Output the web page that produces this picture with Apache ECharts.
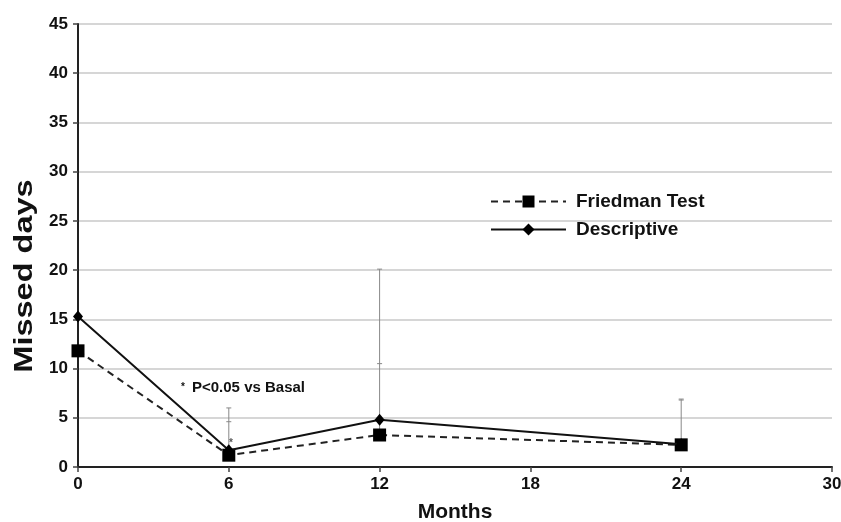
<!DOCTYPE html>
<html><head><meta charset="utf-8">
<script src="https://cdn.jsdelivr.net/npm/echarts@6/dist/echarts.min.js"></script>
<style>html,body{margin:0;padding:0;background:#fff}#c{width:841px;height:522px}</style>
</head><body><div id="c"></div>
<script>
const months = [0, 6, 12, 24];
const friedman = [11.8, 1.2, 3.25, 2.25];
const descriptive = [15.3, 1.7, 4.8, 2.3];
const descriptiveUpper = [null, 6.0, 20.1, 6.9];
const friedmanUpper = [null, 4.6, 10.5, 6.8];
const xTicks = [0, 6, 12, 18, 24, 30];
const yTicks = [0, 5, 10, 15, 20, 25, 30, 35, 40, 45];

const font = 'Liberation Sans, Arial, sans-serif';
const chart = echarts.init(document.getElementById('c'));
const errData = months.map((m, i) => [m, Math.min(friedman[i], descriptive[i]), descriptiveUpper[i], friedmanUpper[i]]).filter(d => d[2] != null);

chart.setOption({
  animation: false,
  grid: {left: 78, right: 9, top: 24, bottom: 55, containLabel: false, outerBoundsMode: 'none'},
  legend: {
    orient: 'vertical', left: 490, top: 192, padding: 0, itemGap: 9, itemWidth: 75, itemHeight: 15,
    textStyle: {fontFamily: font, fontWeight: 'bold', fontSize: 19, color: '#111', padding: [0, 0, 0, 5]},
    data: ['Friedman Test', 'Descriptive']
  },
  xAxis: {
    type: 'value', min: 0, max: 30, interval: 6,
    name: 'Months', nameLocation: 'middle', nameGap: 35,
    nameTextStyle: {fontFamily: font, fontWeight: 'bold', fontSize: 21, color: '#111'},
    axisLine: {lineStyle: {color: '#222', width: 2}},
    axisTick: {show: true, length: 5, lineStyle: {color: '#444', width: 1.5}},
    axisLabel: {fontFamily: font, fontWeight: 'bold', fontSize: 17, color: '#111', margin: 9},
    splitLine: {show: false}
  },
  yAxis: {
    type: 'value', min: 0, max: 45, interval: 5,
    axisLine: {show: true, lineStyle: {color: '#222', width: 2}},
    axisTick: {show: true, length: 5, lineStyle: {color: '#444', width: 1.5}},
    axisLabel: {fontFamily: font, fontWeight: 'bold', fontSize: 17, color: '#111', margin: 10},
    splitLine: {show: true, lineStyle: {color: '#c8c8c8', width: 1.5}}
  },
  series: [
    {
      type: 'custom', name: 'err', silent: true, z: 1,
      data: errData,
      renderItem: function (params, api) {
        const x = api.coord([api.value(0), api.value(1)]);
        const top = api.coord([api.value(0), api.value(2)]);
        const mid = api.coord([api.value(0), api.value(3)]);
        const st = {stroke: '#888', lineWidth: 1};
        return {type: 'group', children: [
          {type: 'line', shape: {x1: x[0], y1: x[1], x2: top[0], y2: top[1]}, style: st},
          {type: 'line', shape: {x1: top[0] - 2.5, y1: top[1], x2: top[0] + 2.5, y2: top[1]}, style: st},
          {type: 'line', shape: {x1: mid[0] - 2.5, y1: mid[1], x2: mid[0] + 2.5, y2: mid[1]}, style: st}
        ]};
      }
    },
    {
      name: 'Friedman Test', type: 'line', z: 3,
      data: months.map((m, i) => [m, friedman[i]]),
      symbol: 'rect', symbolSize: 13,
      itemStyle: {color: '#000'},
      lineStyle: {color: '#222', width: 2, type: [7, 5]}
    },
    {
      name: 'Descriptive', type: 'line', z: 4,
      data: months.map((m, i) => [m, descriptive[i]]),
      symbol: 'diamond', symbolSize: [10, 12],
      itemStyle: {color: '#000'},
      lineStyle: {color: '#111', width: 2}
    }
  ],
  graphic: [
    {type: 'text', x: 25.5, y: 276, rotation: Math.PI / 2, scaleX: 1.3,
     style: {text: 'Missed days', font: 'bold 25px ' + font, fill: '#111', align: 'center', verticalAlign: 'middle'}},
    {type: 'text', left: 181, top: 382, style: {text: '*', font: 'bold 10px ' + font, fill: '#111'}},
    {type: 'text', left: 192, top: 380, style: {text: 'P<0.05 vs Basal', font: 'bold 15px ' + font, fill: '#111'}},
    {type: 'text', left: 229, top: 438, style: {text: '*', font: 'bold 10px ' + font, fill: '#555'}}
  ]
});
</script></body></html>
